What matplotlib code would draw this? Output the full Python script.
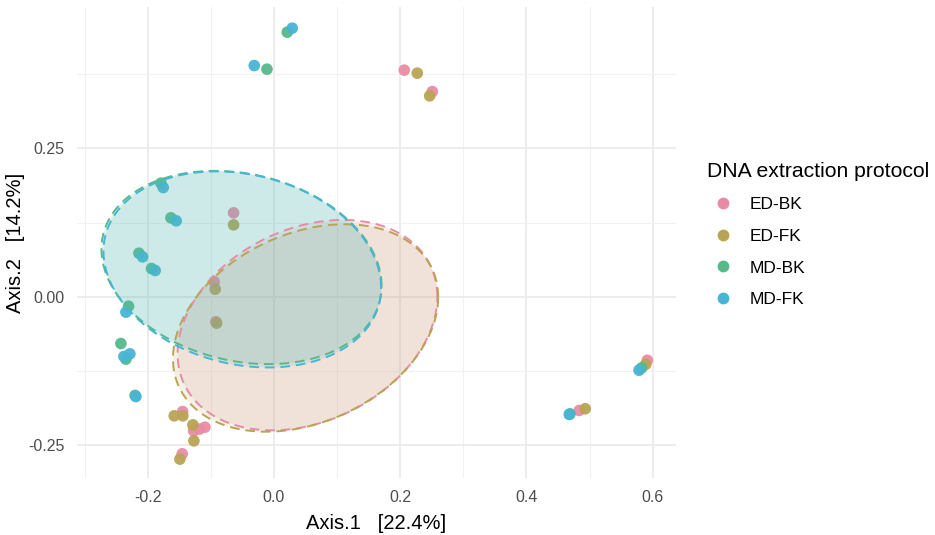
import numpy as np
import matplotlib
matplotlib.use("Agg")
import matplotlib.pyplot as plt
from matplotlib.lines import Line2D

groups = ["ED-BK", "ED-FK", "MD-BK", "MD-FK"]
colors = ["#E88CA5", "#B9A455", "#56B98A", "#47B5D5"]

ed_bk_x = [0.2065, 0.2509, -0.0639, -0.0946, -0.0920, -0.1447, -0.1272, -0.1183, -0.1093, -0.1453, 0.5916, 0.4837]
ed_bk_y = [0.3817, 0.3456, 0.1414, 0.0253, -0.0420, -0.1931, -0.2256, -0.2227, -0.2194, -0.2643, -0.1068, -0.1913]
ed_fk_x = [0.2271, 0.2467, -0.0639, -0.0930, -0.0908, -0.1580, -0.1442, -0.1284, -0.1268, -0.1490, 0.5890, 0.4932]
ed_fk_y = [0.3766, 0.3384, 0.1212, 0.0130, -0.0443, -0.2003, -0.2003, -0.2155, -0.2424, -0.2732, -0.1137, -0.1884]
md_bk_x = [0.0211, -0.0111, -0.1790, -0.1632, -0.2139, -0.1939, -0.2303, -0.2425, -0.2345, -0.2200, 0.5826, 0.4690]
md_bk_y = [0.4456, 0.3833, 0.1914, 0.1330, 0.0735, 0.0477, -0.0157, -0.0786, -0.1049, -0.1660, -0.1195, -0.1970]
md_fk_x = [0.0290, -0.0312, -0.1754, -0.1548, -0.2081, -0.1881, -0.2345, -0.2377, -0.2282, -0.2187, 0.5784, 0.4679]
md_fk_y = [0.4523, 0.3894, 0.1840, 0.1280, 0.0673, 0.0443, -0.0258, -0.1004, -0.0960, -0.1678, -0.1235, -0.1980]

xs = [ed_bk_x, ed_fk_x, md_bk_x, md_fk_x]
ys = [ed_bk_y, ed_fk_y, md_bk_y, md_fk_y]

x_ticks = [-0.2, 0.0, 0.2, 0.4, 0.6]
x_ticklabels = ["-0.2", "0.0", "0.2", "0.4", "0.6"]
y_ticks = [-0.25, 0.0, 0.25]
y_ticklabels = ["-0.25", "0.00", "0.25"]

plt.rcParams["font.family"] = ["Liberation Sans", "DejaVu Sans"]

fig = plt.figure(figsize=(9.35, 5.35), dpi=100)
ax = fig.add_axes([77/935, 57/535, 599/935, 471/535])

ax.set_xlim(-0.312, 0.637)
ax.set_ylim(-0.305, 0.488)
for s in ax.spines.values():
    s.set_visible(False)
ax.set_xticks(x_ticks)
ax.set_xticklabels(x_ticklabels)
ax.set_yticks(y_ticks)
ax.set_yticklabels(y_ticklabels)
ax.set_xticks([-0.3, -0.1, 0.1, 0.3, 0.5], minor=True)
ax.set_yticks([-0.125, 0.125, 0.375], minor=True)
ax.grid(True, which="major", color="#EBEBEB", linewidth=1.3)
ax.grid(True, which="minor", color="#F1F1F1", linewidth=0.8)
ax.tick_params(which="both", length=0, labelsize=11.5, labelcolor="#4D4D4D")
ax.tick_params(axis="x", pad=9)
ax.tick_params(axis="y", pad=9)
ax.set_axisbelow(True)

ax.set_xlabel("Axis.1   [22.4%]", fontsize=14.5, color="black", labelpad=6)
ax.set_ylabel("Axis.2   [14.2%]", fontsize=14.5, color="black", labelpad=2)

for x, y, c in zip(xs, ys, colors):
    ax.scatter(x, y, s=70, color=c, edgecolors="none", zorder=3, alpha=0.95)

t = np.linspace(0, 2 * np.pi, 200)
circle = np.column_stack([np.cos(t), np.sin(t)])
for x, y, c in zip(xs, ys, colors):
    pts = np.column_stack([x, y])
    n = len(pts)
    center = pts.mean(axis=0)
    cov = np.cov(pts.T) / n
    dfd = n - 1
    qf = (dfd / 2.0) * ((1 - 0.95) ** (-2.0 / dfd) - 1)
    r = np.sqrt(2 * qf) * 0.96
    chol = np.linalg.cholesky(cov).T
    ell = center + r * (circle @ chol)
    ax.fill(ell[:, 0], ell[:, 1], color=c, alpha=0.15, lw=0, zorder=4)
    ax.plot(ell[:, 0], ell[:, 1], color=c, lw=1.4, ls=(0, (5, 3)), zorder=5)

handles = [Line2D([], [], marker="o", ls="none", markersize=8.5, color=c, markeredgecolor="none")
           for c in colors]
leg = fig.legend(handles, groups, title="DNA extraction protocol", loc="upper left",
                 bbox_to_anchor=(691/935, 1 - 146/535), frameon=False, fontsize=12.5,
                 title_fontsize=15.2, labelspacing=0.95, handletextpad=0.63, handlelength=1.85)
leg._legend_box.align = "left"

fig.savefig("out.png", dpi=100)
